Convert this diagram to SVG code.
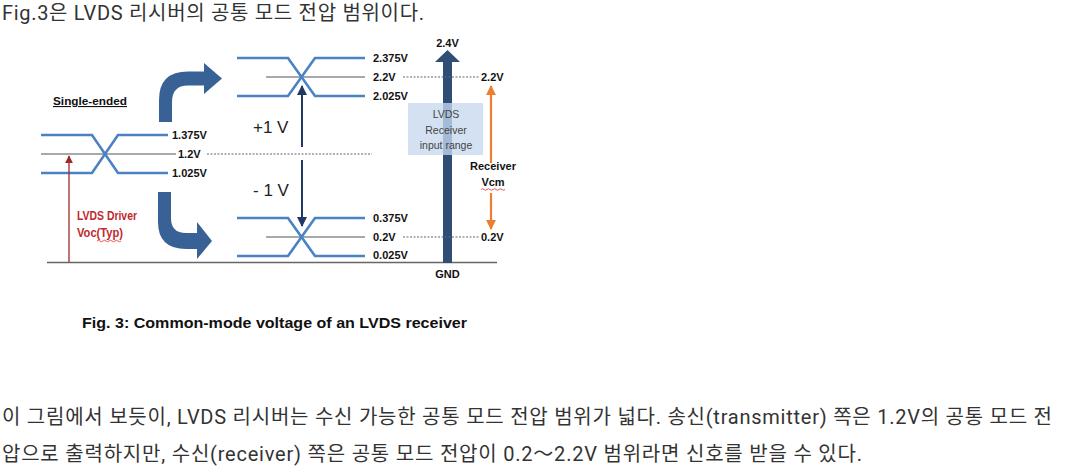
<svg xmlns="http://www.w3.org/2000/svg" width="1070" height="470" viewBox="0 0 1070 470">
<defs>
<style>
.body{font-family:Roboto,"Noto Sans CJK KR",sans-serif;font-size:20px;fill:#333}
.lbl{font-family:"Liberation Sans",Arial,sans-serif;font-size:11px;font-weight:bold;fill:#111}
.big{font-family:"Liberation Sans",Arial,sans-serif;font-size:17px;fill:#222}
.sig{fill:none;stroke:#4a82c4;stroke-width:2.6}
.mid{fill:none;stroke:#555;stroke-width:1.1}
.dot{fill:none;stroke:#666;stroke-width:1;stroke-dasharray:2 1.5}
.box{font-family:"Liberation Sans",Arial,sans-serif;font-size:10.5px;fill:#444;text-anchor:middle}
.red{font-family:"Liberation Sans",Arial,sans-serif;font-size:12px;font-weight:bold;fill:#c0282d}
.blk{fill:#386296}
</style>
<marker id="navy" viewBox="0 0 10 10" refX="9" refY="5" markerWidth="5" markerHeight="5" orient="auto-start-reverse"><path d="M0,0 L10,5 L0,10 Z" fill="#1f3864"/></marker>
<marker id="orange" viewBox="0 0 10 10" refX="9" refY="5" markerWidth="4.5" markerHeight="4.5" orient="auto-start-reverse"><path d="M0,0 L10,5 L0,10 Z" fill="#ed7d31"/></marker>
<marker id="red" viewBox="0 0 10 10" refX="9" refY="5" markerWidth="6" markerHeight="6" orient="auto-start-reverse"><path d="M0,0 L10,5 L0,10 Z" fill="#a0282a"/></marker>
</defs>
<rect width="1070" height="470" fill="#fff"/>

<text class="body" x="2" y="20" textLength="422">Fig.3은 LVDS 리시버의 공통 모드 전압 범위이다.</text>

<g id="baseline"><path d="M47,262.5 H497" stroke="#666" stroke-width="1.5" fill="none"/></g>

<g id="single-ended">
<text class="lbl" x="53" y="105" font-size="12" textLength="74" lengthAdjust="spacingAndGlyphs" text-decoration="underline">Single-ended</text>
<path class="mid" d="M41,154 H176"/>
<path class="sig" d="M41,135 H92 L118,173 H168"/>
<path class="sig" d="M41,173 H92 L118,135 H168"/>
<text class="lbl" x="172" y="139">1.375V</text>
<text class="lbl" x="178" y="158">1.2V</text>
<text class="lbl" x="172" y="177">1.025V</text>
</g>

<g id="driver-voc">
<text class="red" x="77" y="220" textLength="60" lengthAdjust="spacingAndGlyphs">LVDS Driver</text>
<text class="red" x="77" y="237" textLength="46" lengthAdjust="spacingAndGlyphs">Voc(Typ)</text>
<path d="M97,241 q1.5,-1.5 3,0 t3,0 t3,0 t3,0 t3,0 t3,0 t3,0 t3,0" fill="none" stroke="#e03030" stroke-width="0.8"/>
</g>

<g id="high-signal">
<path class="mid" d="M266,77 H365"/>
<path class="sig" d="M237,58 H288 L315,96 H365"/>
<path class="sig" d="M237,96 H288 L315,58 H365"/>
<text class="lbl" x="373" y="62">2.375V</text>
<text class="lbl" x="373" y="81">2.2V</text>
<text class="lbl" x="373" y="100">2.025V</text>
</g>

<g id="low-signal">
<path class="mid" d="M266,237 H365"/>
<path class="sig" d="M237,218 H288 L315,256 H365"/>
<path class="sig" d="M237,256 H288 L315,218 H365"/>
<text class="lbl" x="373" y="222">0.375V</text>
<text class="lbl" x="373" y="241">0.2V</text>
<text class="lbl" x="373" y="259">0.025V</text>
</g>

<g id="plus1v"><text class="big" x="253" y="133">+1 V</text></g>
<g id="minus1v"><text class="big" x="253" y="196">- 1 V</text></g>

<g id="rail">
<rect x="443" y="61" width="9" height="202" fill="#2f4d75"/>
<path d="M435,62 L447.5,50 L460,62 Z" fill="#2f4d75"/>
<text class="lbl" x="447.5" y="47" text-anchor="middle">2.4V</text>
<text class="lbl" x="447.5" y="278" text-anchor="middle">GND</text>
</g>

<g id="receiver-range">
<rect x="408" y="103" width="75" height="52" fill="#c6d9f0" fill-opacity="0.78"/>
<text class="box" x="446" y="118">LVDS</text>
<text class="box" x="446" y="133.5">Receiver</text>
<text class="box" x="446" y="149">input range</text>
</g>

<g id="receiver-vcm">
<text class="lbl" x="493" y="170" font-size="11.5" text-anchor="middle">Receiver</text>
<text class="lbl" x="493" y="186" font-size="11.5" text-anchor="middle">Vcm</text>
<path d="M481,189.5 q1.5,-1.5 3,0 t3,0 t3,0 t3,0 t3,0 t3,0 t3,0 t3,0" fill="none" stroke="#e03030" stroke-width="0.8"/>
<text class="lbl" x="481" y="81">2.2V</text>
<text class="lbl" x="481" y="241">0.2V</text>
</g>

<g id="connectors">
<path class="blk" d="M159,122 L159,100 Q159,71.5 188,71.5 L204,71.5 L204,63 L222,78.5 L204,94 L204,85.5 L188,85.5 Q172,85.5 172,102 L172,122 Z"/>
<path class="blk" d="M158,192 L171,192 L171,218 Q171,233 186,233 L197,233 L197,222 L212,241 L197,259 L197,249 L186,249 Q158,249 158,222 Z"/>
<path d="M69,262 V156" stroke="#a0282a" stroke-width="1.3" fill="none" marker-end="url(#red)"/>
<path class="dot" d="M207,154 H372"/>
<path class="dot" d="M403,77 H480"/>
<path class="dot" d="M403,237 H480"/>
<path d="M302,147 V86" stroke="#1f3864" stroke-width="2" fill="none" marker-end="url(#navy)"/>
<path d="M302,160 V226" stroke="#1f3864" stroke-width="2" fill="none" marker-end="url(#navy)"/>
<path d="M491,163 V86" stroke="#ed7d31" stroke-width="2.2" fill="none" marker-end="url(#orange)"/>
<path d="M491,193 V229" stroke="#ed7d31" stroke-width="2.2" fill="none" marker-end="url(#orange)"/>
</g>

<text x="82" y="328" font-family="Liberation Sans, Arial, sans-serif" font-size="15" font-weight="bold" fill="#111" textLength="385" lengthAdjust="spacingAndGlyphs">Fig. 3: Common-mode voltage of an LVDS receiver</text>

<text class="body" x="2" y="424" textLength="1050">이 그림에서 보듯이, LVDS 리시버는 수신 가능한 공통 모드 전압 범위가 넓다. 송신(transmitter) 쪽은 1.2V의 공통 모드 전</text>
<text class="body" x="2" y="461" textLength="860">압으로 출력하지만, 수신(receiver) 쪽은 공통 모드 전압이 0.2～2.2V 범위라면 신호를 받을 수 있다.</text>
</svg>
